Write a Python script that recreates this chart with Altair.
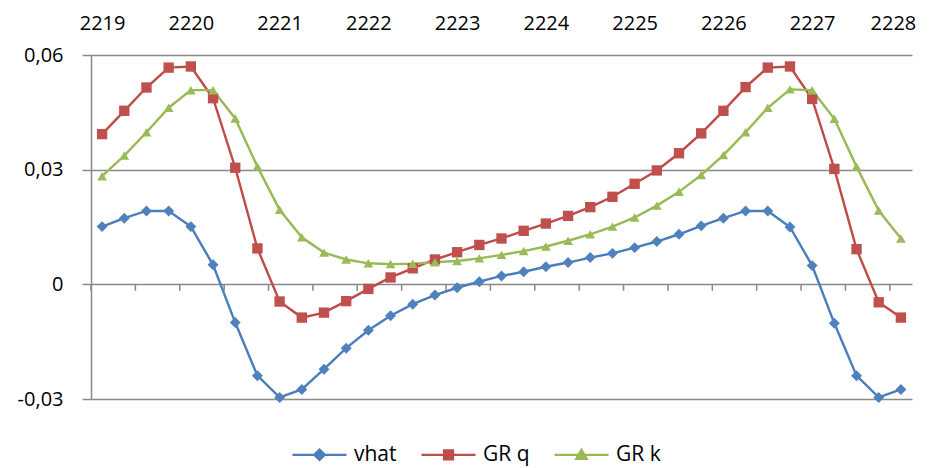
import json
import altair as alt
import pandas as pd

# ---- data ----
series_names = ["vhat", "GR q", "GR k"]
year_labels = ["2219", "2220", "2221", "2222", "2223", "2224", "2225", "2226", "2227", "2228"]
n_points = 37

vhat = [0.0151, 0.0173, 0.0192, 0.0192, 0.0151, 0.0051, -0.0100, -0.0239, -0.0296, -0.0275,
        -0.0222, -0.0167, -0.0120, -0.0082, -0.0052, -0.0028, -0.0009, 0.0007, 0.0022, 0.0033,
        0.0046, 0.0057, 0.0070, 0.0081, 0.0096, 0.0112, 0.0131, 0.0153, 0.0173, 0.0192,
        0.0192, 0.0150, 0.0049, -0.0102, -0.0239, -0.0296, -0.0275]
gr_q = [0.0393, 0.0454, 0.0515, 0.0567, 0.0570, 0.0487, 0.0305, 0.0094, -0.0045, -0.0087,
        -0.0074, -0.0044, -0.0012, 0.0018, 0.0042, 0.0065, 0.0084, 0.0103, 0.0120, 0.0140,
        0.0159, 0.0179, 0.0202, 0.0229, 0.0263, 0.0298, 0.0343, 0.0395, 0.0454, 0.0516,
        0.0567, 0.0570, 0.0485, 0.0302, 0.0092, -0.0047, -0.0087]
gr_k = [0.0283, 0.0337, 0.0398, 0.0462, 0.0508, 0.0508, 0.0434, 0.0308, 0.0195, 0.0123,
        0.0083, 0.0065, 0.0055, 0.0053, 0.0054, 0.0058, 0.0061, 0.0068, 0.0077, 0.0087,
        0.0099, 0.0114, 0.0131, 0.0151, 0.0175, 0.0206, 0.0242, 0.0286, 0.0338, 0.0398,
        0.0462, 0.0510, 0.0508, 0.0433, 0.0308, 0.0193, 0.0120]

y_ticks = [-0.03, 0.0, 0.03, 0.06]
# category boundaries that carry tick marks on the zero line (every 2nd category)
tick_bounds = [b - 0.5 for b in range(0, n_points, 2)]

line_colors = ["#4A7EBB", "#BE4B48", "#98B954"]
marker_colors = ["#4F81BD", "#C0504D", "#9BBB59"]
shapes = ["diamond", "square", "triangle-up"]
sizes = [120, 95, 115]
# legend symbols: a line segment with the series marker on it
legend_paths = [
    "M-5.4,0H5.4M0,-1.05L1.05,0L0,1.05L-1.05,0Z",
    "M-5.4,0H5.4M-0.9,-0.9H0.9V0.9H-0.9Z",
    "M-5.4,0H5.4M0,-1L1.05,0.8H-1.05Z",
]

rows = []
for name, vals in zip(series_names, [vhat, gr_q, gr_k]):
    for i, v in enumerate(vals):
        rows.append({"idx": i, "series": name, "value": v})
df = pd.DataFrame(rows)
ticks_df = pd.DataFrame({"b": tick_bounds})

FONT = "Open Sans"
GRID = "#898989"

xscale = alt.Scale(domain=[-0.5, n_points - 0.5], nice=False, zero=False)
yscale = alt.Scale(domain=[-0.03, 0.06], nice=False, zero=False)

label_expr_x = json.dumps(year_labels) + "[round(datum.value/4)]"
label_expr_y = ("datum.value == 0 ? '0' : replace(replace(format(datum.value, '.2f'), '.', ','), '\u2212', '-')")

x_axis = alt.Axis(orient="top", values=list(range(0, n_points, 4)), labelExpr=label_expr_x,
                  title=None, grid=False, ticks=False, domain=False,
                  labelFont=FONT, labelFontSize=20, labelColor="black", labelPadding=22,
                  labelFlush=False,
                  labelOffset={"condition": {"test": "datum.value == %d" % (n_points - 1), "value": -8},
                               "value": 0})
y_axis = alt.Axis(values=y_ticks, labelExpr=label_expr_y, title=None,
                  grid=True, gridColor=GRID, gridWidth=1.5,
                  domain=True, domainColor=GRID, domainWidth=1.5,
                  ticks=True, tickSize=9, tickColor=GRID, tickWidth=1.5,
                  labelFont=FONT, labelFontSize=20, labelColor="black", labelPadding=19)

color_scale = alt.Scale(domain=series_names, range=line_colors)

lines = alt.Chart(df).mark_line(strokeWidth=2.4).encode(
    x=alt.X("idx:Q", scale=xscale, axis=x_axis),
    y=alt.Y("value:Q", scale=yscale, axis=y_axis),
    color=alt.Color("series:N", scale=color_scale, legend=None),
    order="idx:Q",
)

points = alt.Chart(df).mark_point(filled=True, opacity=1).encode(
    x=alt.X("idx:Q", scale=xscale, axis=x_axis),
    y=alt.Y("value:Q", scale=yscale, axis=y_axis),
    fill=alt.Fill("series:N", scale=alt.Scale(domain=series_names, range=marker_colors), legend=None),
    shape=alt.Shape("series:N", scale=alt.Scale(domain=series_names, range=shapes), legend=None),
    size=alt.Size("series:N", scale=alt.Scale(domain=series_names, range=sizes), legend=None),
)

leg = alt.Legend(
    title=None, orient="none", direction="horizontal",
    legendX=202, legendY=389,
    labelFont=FONT, labelFontSize=21, labelColor="black",
    symbolSize=100, symbolStrokeWidth=2.25, symbolOffset=16,
    labelOffset=24, columnPadding=20,
)

legend_layer = alt.Chart(df).transform_filter("false").mark_point(
    filled=True, size=100, strokeWidth=2.25, opacity=1
).encode(
    x=alt.X("idx:Q", scale=xscale, axis=x_axis),
    y=alt.Y("value:Q", scale=yscale, axis=y_axis),
    fill=alt.Fill("series:N", scale=alt.Scale(domain=series_names, range=marker_colors), legend=leg),
    stroke=alt.Stroke("series:N", scale=alt.Scale(domain=series_names, range=line_colors), legend=leg),
    shape=alt.Shape("series:N", scale=alt.Scale(domain=series_names, range=legend_paths), legend=leg),
)

tick_marks = alt.Chart(ticks_df).mark_rule(color=GRID, strokeWidth=1.5).encode(
    x=alt.X("b:Q", scale=xscale, axis=x_axis),
    y=alt.datum(0.0, scale=yscale, axis=y_axis),
    y2=alt.datum(-0.0017),
)

chart = alt.layer(tick_marks, lines, points, legend_layer).resolve_scale(
    fill="independent", shape="independent", size="independent", stroke="independent"
).properties(
    width=821, height=344,
    autosize=alt.AutoSizeParams(type="none"),
    padding={"left": 83, "top": 47, "right": 11, "bottom": 68},
).configure_view(stroke=None)

chart.save("out.html", embed_options={"renderer": "svg", "actions": False})
